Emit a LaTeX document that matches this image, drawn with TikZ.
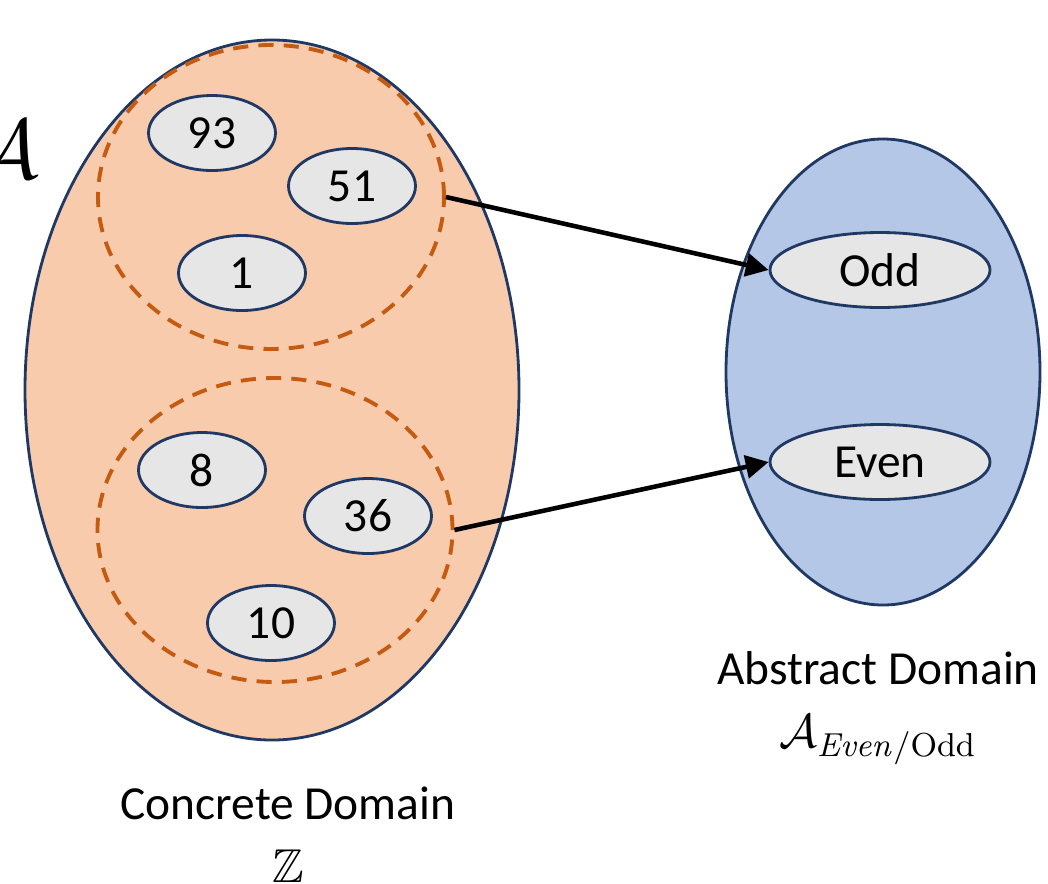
\documentclass[tikz,border=0pt]{standalone}
\usepackage{fix-cm}
\usepackage{amssymb}
\usepackage[no-math]{fontspec}
\setmainfont{Carlito}
\usetikzlibrary{arrows.meta,shapes.geometric}
\usepackage{xcolor}
\definecolor{navy}{HTML}{203864}
\definecolor{concorange}{HTML}{F8CBAD}
\definecolor{dashorange}{HTML}{C55A11}
\definecolor{absblue}{HTML}{B4C7E7}
\definecolor{elemgrey}{HTML}{E7E6E6}

\begin{document}
\begin{tikzpicture}[x=1cm,y=1cm,
  domainset/.style={ellipse,draw=navy,line width=0.8pt,inner sep=0pt},
  classset/.style={ellipse,draw=dashorange,dash pattern=on 4.3pt off 2.9pt,line width=1.1pt,inner sep=0pt},
  elem/.style={ellipse,draw=navy,fill=elemgrey,line width=0.8pt,inner sep=0pt,
    minimum width=1.27cm,minimum height=0.75cm,font=\fontsize{13.5}{16}\selectfont},
  map/.style={-{Triangle[length=6.5pt,width=6.5pt]},line width=1.3pt},
  domlabel/.style={align=center,font=\fontsize{13.5}{18}\selectfont}]
  \useasboundingbox (0,0) rectangle (10.48,-8.83);
  % Concrete domain
  \node[domainset,fill=concorange,minimum width=4.94cm,minimum height=7.0cm] (conc) at (2.72,-3.90) {};
  \node[classset,minimum width=3.46cm,minimum height=3.04cm] (odds) at (2.71,-1.97) {};
  \node[classset,minimum width=3.55cm,minimum height=3.04cm] (evens) at (2.75,-5.30) {};
  % odd numbers
  \node[elem] (n93) at (2.12,-1.33) {93};
  \node[elem] (n51) at (3.52,-1.86) {51};
  \node[elem] (n1) at (2.42,-2.73) {1};
  % even numbers
  \node[elem] (n8) at (2.02,-4.70) {8};
  \node[elem] (n36) at (3.68,-5.16) {36};
  \node[elem] (n10) at (2.71,-6.23) {10};
  % Abstract domain
  \node[domainset,fill=absblue,minimum width=3.14cm,minimum height=4.66cm] (abs) at (8.83,-3.72) {};
  \node[elem,minimum width=2.2cm] (odd) at (8.80,-2.70) {Odd};
  \node[elem,minimum width=2.2cm] (even) at (8.80,-4.62) {Even};
  % Abstraction arrows
  \draw[map] (odds.east) -- (odd.west);
  \draw[map] (evens.east) -- (even.west);
  % Labels
  \node[domlabel] (abslabel) at (8.78,-7.08) {Abstract Domain\\$\mathcal{A}_{\mathit{Even}/\mathrm{Odd}}$};
  \node[domlabel] (conclabel) at (2.88,-8.35) {Concrete Domain\\$\mathbb{Z}$};
  \node[font=\fontsize{24}{28}\selectfont] (alpha) at (0.05,-1.50) {$\mathcal{A}$};
\end{tikzpicture}
\end{document}
